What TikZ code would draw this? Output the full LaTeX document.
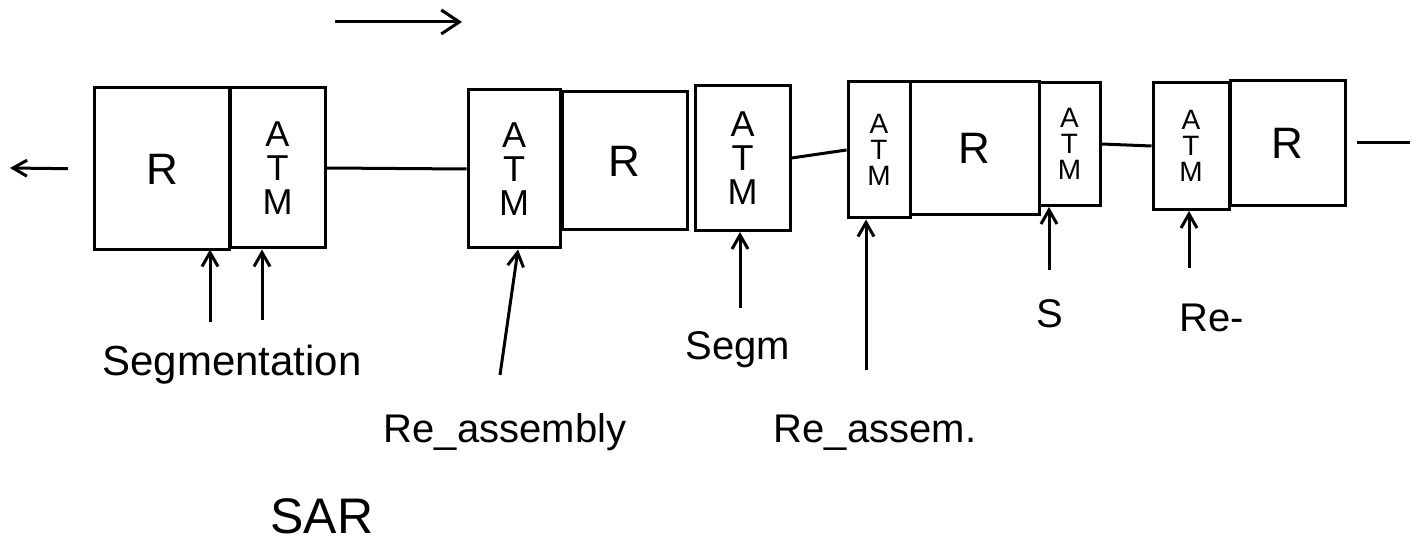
\documentclass[tikz,border=0pt]{standalone}
\usepackage{fontspec}
\setmainfont{Liberation Sans}
\usetikzlibrary{arrows.meta}
\begin{document}
\begin{tikzpicture}[x=0.5pt,y=-0.5pt,
  line width=1.5pt,
  cell/.style={draw,rectangle,inner sep=0pt,font=\fontsize{22}{22}\selectfont},
  atm/.style={cell,align=center,font=\fontsize{18}{17}\selectfont},
  atms/.style={cell,align=center,font=\fontsize{14}{13}\selectfont},
  lbl/.style={font=\fontsize{20}{20}\selectfont},
  arr/.style={-{Straight Barb[length=7pt,width=8pt]}},
  bigarr/.style={-{Straight Barb[length=9pt,width=12pt]}}
]
\useasboundingbox (0,0) rectangle (1417,550);
% group 1
\node[cell,minimum width=67.5pt,minimum height=81pt] (R1) at (162,169) {R};
\node[atm,minimum width=47.5pt,minimum height=80pt] (A1) at (277.5,168) {A\\T\\M};
% group 2
\node[atm,minimum width=46pt,minimum height=79pt] (A2) at (514,169) {A\\T\\M};
\node[cell,minimum width=62.5pt,minimum height=69pt] (R2) at (624.5,161) {R};
\node[atm,minimum width=47.5pt,minimum height=72.5pt] (A3) at (742.5,158) {A\\T\\M};
% group 3
\node[atms,minimum width=31pt,minimum height=68pt] (A4) at (879,150) {A\\T\\M};
\node[cell,minimum width=64.5pt,minimum height=66.5pt] (R3) at (974.5,148) {R};
\node[atms,minimum width=30.5pt,minimum height=61.5pt] (A5) at (1069.5,144) {A\\T\\M};
% group 4
\node[atms,minimum width=38pt,minimum height=63.5pt] (A6) at (1191,146) {A\\T\\M};
\node[cell,minimum width=57.5pt,minimum height=62.5pt] (R4) at (1287.5,143) {R};
% links
\coordinate (Lend) at (10,168);
\coordinate (Rend) at (1410,143);
\draw[arr,shorten <=12.5pt] (R1.west) -- (Lend);
\draw (A1.east) -- (A2.west);
\draw (A3.east) -- (A4.west);
\draw (A5.east) -- (A6.west);
\draw[shorten <=5pt] (R4.east) -- (Rend);
% direction arrow
\coordinate (d1) at (335,22);
\coordinate (d2) at (462,22);
\draw[bigarr] (d1) -- (d2);
% labels
\node[lbl,font=\fontsize{21}{21}\selectfont] (seg) at (232,365) {Segmentation};
\node[lbl] (reas) at (505,432) {Re\_assembly};
\node[lbl] (segm) at (738,350) {Segm};
\node[lbl] (reas2) at (875,433) {Re\_assem.};
\node[lbl] (s) at (1050,314) {S};
\node[lbl] (re) at (1212,318) {Re-};
\node[font=\fontsize{25}{25}\selectfont] (sar) at (322,516) {SAR};
% up arrows
\coordinate (u1) at (210,322);
\coordinate (u2) at (262,320);
\coordinate (u3) at (500,375);
\coordinate (u4) at (740,308);
\coordinate (u5) at (866,370);
\coordinate (u6) at (1049,270);
\coordinate (u7) at (1189,268);
\draw[arr] (u1) -- (u1 |- A1.south) ;
\draw[arr] (u2) -- (u2 |- A1.south);
\draw[arr] (u3) -- ([xshift=2pt]A2.south);
\draw[arr] (u4) -- (u4 |- A3.south);
\draw[arr] (u5) -- (u5 |- A4.south);
\draw[arr] (u6) -- (u6 |- A5.south);
\draw[arr] (u7) -- (u7 |- A6.south);
\end{tikzpicture}
\end{document}
